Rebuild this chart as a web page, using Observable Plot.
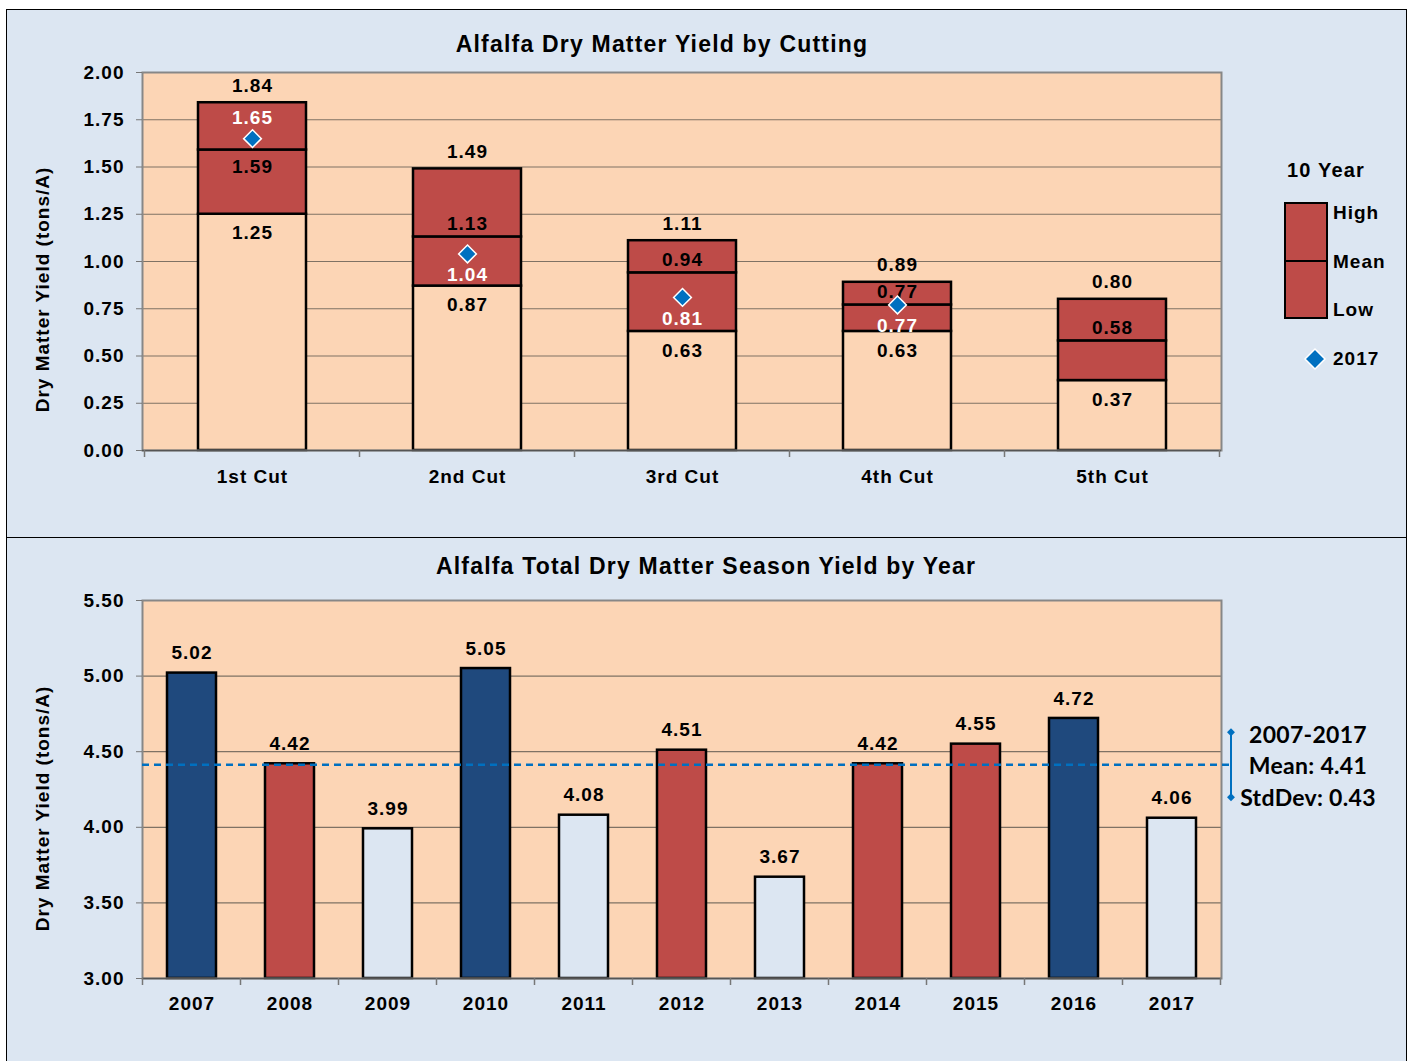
<!DOCTYPE html>
<html><head><meta charset="utf-8">
<script src="https://cdn.jsdelivr.net/npm/d3@7"></script>
<script src="https://cdn.jsdelivr.net/npm/@observablehq/plot@0.6"></script>
<style>
body{margin:0;background:#fff;font-family:"Liberation Sans",Arial,sans-serif;}
#wrap{position:relative;width:1413px;height:1061px;overflow:hidden;}
.panel{position:absolute;left:6px;width:1399px;background:#dce6f2;border:1px solid #000;}
#p1{top:9px;height:527px;}
#p2{top:538px;height:540px;border-top:none;}
.plot{position:absolute;left:7px;}
#c1{top:10px;} #c2{top:538px;}
svg text{letter-spacing:1px;}
.ov{position:absolute;white-space:nowrap;font-weight:bold;color:#000;transform:translate(-50%,-50%);}
.lt{position:absolute;white-space:nowrap;font-weight:bold;font-size:19px;letter-spacing:1px;transform:translate(0,-50%);}
.title{font-size:23px;letter-spacing:1.2px;}
.side{font-family:Lato,"Open Sans",sans-serif;font-size:23px;letter-spacing:0.3px;}
</style></head>
<body><div id="wrap">
<div class="panel" id="p1"></div>
<div class="panel" id="p2"></div>
<div class="plot" id="c1"></div>
<div class="plot" id="c2"></div>
</div>
<script>
// ---------- data: top chart ----------
const cuts = ["1st Cut", "2nd Cut", "3rd Cut", "4th Cut", "5th Cut"];
const highYield = [1.84, 1.49, 1.11, 0.89, 0.80];
const meanYield = [1.59, 1.13, 0.94, 0.77, 0.58];
const lowYield = [1.25, 0.87, 0.63, 0.63, 0.37];
const yield2017 = [1.65, 1.04, 0.81, 0.77, null];
const cutTicks = [0, 0.25, 0.5, 0.75, 1, 1.25, 1.5, 1.75, 2];
const title1 = "Alfalfa Dry Matter Yield by Cutting";

// ---------- data: bottom chart ----------
const years = ["2007","2008","2009","2010","2011","2012","2013","2014","2015","2016","2017"];
const totals = [5.02, 4.42, 3.99, 5.05, 4.08, 4.51, 3.67, 4.42, 4.55, 4.72, 4.06];
const classes = ["high","mid","low","high","low","mid","low","mid","mid","high","low"];
const yearTicks = [3, 3.5, 4, 4.5, 5, 5.5];
const periodLabel = "2007-2017";
const periodMean = 4.41;
const periodSD = 0.43;
const title2 = "Alfalfa Total Dry Matter Season Yield by Year";
const yLabel = "Dry Matter Yield (tons/A)";

// ---------- style ----------
const PEACH = "#fcd5b5", RED = "#be4b48", NAVY = "#1f497d", PALE = "#dce6f2", BLUE = "#0070c0";
const GRID = "#7f7264", FRAME = "#878787";
const classColor = {high: NAVY, mid: RED, low: PALE};
const fmt = d3.format(".2f");
const baseStyle = {fontFamily: "'Liberation Sans', Arial, sans-serif", fontSize: "19px", fontWeight: "bold", color: "#000", background: "transparent", overflow: "visible"};

function boundaryTicks(index, scales, values, dim) {
  const x = scales.x, step = x.step(), bw = x.bandwidth();
  const dom = x.domain();
  const xs = dom.map(d => x(d) - (step - bw) / 2);
  xs.push(x(dom[dom.length - 1]) + bw + (step - bw) / 2);
  const yb = dim.height - dim.marginBottom;
  const g = d3.create("svg:g");
  g.selectAll("line").data(xs).join("line")
    .attr("x1", d => d).attr("x2", d => d).attr("y1", yb).attr("y2", yb + 7)
    .attr("stroke", "#777").attr("stroke-width", 1.5);
  return g.node();
}

// ---------- top chart ----------
const rows = cuts.map((c, i) => ({cut: c, high: highYield[i], mean: meanYield[i], low: lowYield[i], y17: yield2017[i]}));
const rows17 = rows.filter(d => d.y17 != null);

const plot1 = Plot.plot({
  width: 1399, height: 527,
  marginLeft: 135, marginRight: 185, marginTop: 62, marginBottom: 87,
  style: baseStyle,
  x: {domain: cuts, paddingInner: 0.5, paddingOuter: 0.25, label: null},
  y: {domain: [0, 2], label: null},
  marks: [
    Plot.frame({fill: PEACH, stroke: null}),
    Plot.ruleY(cutTicks.slice(1), {stroke: GRID, strokeWidth: 1.2}),
    Plot.barY(rows, {x: "cut", y1: 0, y2: "low", fill: PEACH, stroke: "#000", strokeWidth: 2.5}),
    Plot.barY(rows, {x: "cut", y1: "low", y2: "mean", fill: RED, stroke: "#000", strokeWidth: 2.5}),
    Plot.barY(rows, {x: "cut", y1: "mean", y2: "high", fill: RED, stroke: "#000", strokeWidth: 2.5}),
    Plot.frame({stroke: FRAME, strokeWidth: 2}),
    Plot.ruleY([0], {stroke: "#555", strokeWidth: 1.5}),
    Plot.axisY(cutTicks, {tickSize: 6, tickPadding: 12, tickFormat: fmt, stroke: "#777", fill: "#000", label: null}),
    Plot.axisX({tickSize: 0, tickPadding: 19, fill: "#000", label: null}),
    boundaryTicks,
    Plot.text([yLabel], {frameAnchor: "left", textAnchor: "middle", dx: -100, dy: 28, rotate: -90, fontSize: 19}),
    Plot.text(rows, {x: "cut", y: "high", text: d => fmt(d.high), dy: -17}),
    Plot.text(rows, {x: "cut", y: "mean", text: d => fmt(d.mean),
      filter: d => !(d.y17 != null && d.y17 > d.mean), dy: -13}),
    Plot.text(rows, {x: "cut", y: "mean", text: d => fmt(d.mean),
      filter: d => d.y17 != null && d.y17 > d.mean, dy: 17}),
    Plot.text(rows, {x: "cut", y: "low", text: d => fmt(d.low), dy: 19}),
    Plot.dot(rows17, {x: "cut", y: "y17", symbol: "diamond2", r: 8, fill: BLUE, stroke: "#fff", strokeWidth: 1.5}),
    Plot.text(rows17, {x: "cut", y: "y17", text: d => fmt(d.y17), fill: "#fff",
      filter: d => d.y17 > d.mean, dy: -21}),
    Plot.text(rows17, {x: "cut", y: "y17", text: d => fmt(d.y17), fill: "#fff",
      filter: d => !(d.y17 > d.mean), dy: 21})
  ]
});
document.getElementById("c1").appendChild(plot1);

// ---------- bottom chart ----------
const yrows = years.map((y, i) => ({year: y, value: totals[i], cls: classes[i]}));
const floor = yearTicks[0];

function meanAndSpread(index, scales, values, dim) {
  const y = scales.y;
  const xr = dim.width - dim.marginRight + 10;
  const g = d3.create("svg:g");
  g.append("line").attr("x1", dim.marginLeft).attr("x2", xr)
    .attr("y1", y(periodMean)).attr("y2", y(periodMean))
    .attr("stroke", BLUE).attr("stroke-width", 2.5).attr("stroke-dasharray", "7,5");
  const ends = [periodMean + periodSD / 2, periodMean - periodSD / 2];
  g.append("line").attr("x1", xr).attr("x2", xr).attr("y1", y(ends[0])).attr("y2", y(ends[1]))
    .attr("stroke", BLUE).attr("stroke-width", 2);
  g.selectAll("path").data(ends).join("path")
    .attr("d", d3.symbol(d3.symbolDiamond2, 40))
    .attr("transform", d => `translate(${xr},${y(d)})`).attr("fill", BLUE);
  return g.node();
}

const plot2 = Plot.plot({
  width: 1399, height: 523,
  marginLeft: 135, marginRight: 185, marginTop: 62, marginBottom: 83,
  style: baseStyle,
  x: {domain: years, paddingInner: 0.5, paddingOuter: 0.25, label: null},
  y: {domain: [yearTicks[0], yearTicks[yearTicks.length - 1]], label: null},
  marks: [
    Plot.frame({fill: PEACH, stroke: null}),
    Plot.ruleY(yearTicks.slice(1), {stroke: GRID, strokeWidth: 1.2}),
    Plot.barY(yrows, {x: "year", y1: floor, y2: "value", fill: d => classColor[d.cls], stroke: "#000", strokeWidth: 2.5}),
    Plot.frame({stroke: FRAME, strokeWidth: 2}),
    Plot.ruleY([floor], {stroke: "#555", strokeWidth: 1.5}),
    Plot.axisY(yearTicks, {tickSize: 6, tickPadding: 12, tickFormat: fmt, stroke: "#777", fill: "#000", label: null}),
    Plot.axisX({tickSize: 0, tickPadding: 18, fill: "#000", label: null}),
    boundaryTicks,
    meanAndSpread,
    Plot.text([yLabel], {frameAnchor: "left", textAnchor: "middle", dx: -100, dy: 19, rotate: -90, fontSize: 19}),
    Plot.text(yrows, {x: "year", y: "value", text: d => fmt(d.value), dy: -20})
  ]
});
document.getElementById("c2").appendChild(plot2);

// ---------- HTML overlays: titles, legend, summary ----------
const wrap = document.getElementById("wrap");
function ov(text, cls, x, y) {
  const d = document.createElement("div");
  d.className = cls; d.textContent = text;
  d.style.left = x + "px"; d.style.top = y + "px";
  wrap.appendChild(d); return d;
}
ov(title1, "ov title", 662, 44);
ov(title2, "ov title", 706, 566);
ov("10 Year", "ov title", 1326, 170).style.fontSize = "20px";
// legend swatch
const sw = document.createElement("div");
Object.assign(sw.style, {position: "absolute", left: "1284px", top: "202px", width: "40px", height: "113px",
  background: RED, border: "2px solid #000"});
const mid = document.createElement("div");
Object.assign(mid.style, {position: "absolute", left: "0", top: "56px", width: "40px", height: "2px", background: "#000"});
sw.appendChild(mid); wrap.appendChild(sw);
ov("High", "lt", 1333, 213);
ov("Mean", "lt", 1333, 262);
ov("Low", "lt", 1333, 310);
const dia = document.createElementNS("http://www.w3.org/2000/svg", "svg");
dia.setAttribute("width", 24); dia.setAttribute("height", 24);
Object.assign(dia.style, {position: "absolute", left: "1303px", top: "347px"});
dia.innerHTML = `<path d="M12 2 L22 12 L12 22 L2 12 Z" fill="${BLUE}" stroke="#fff" stroke-width="1.5"/>`;
wrap.appendChild(dia);
ov("2017", "lt", 1333, 359);
// summary
ov(periodLabel, "ov side", 1308, 734);
ov("Mean: " + fmt(periodMean), "ov side", 1308, 765);
ov("StdDev: " + fmt(periodSD), "ov side", 1308, 797);
</script>
</body></html>
